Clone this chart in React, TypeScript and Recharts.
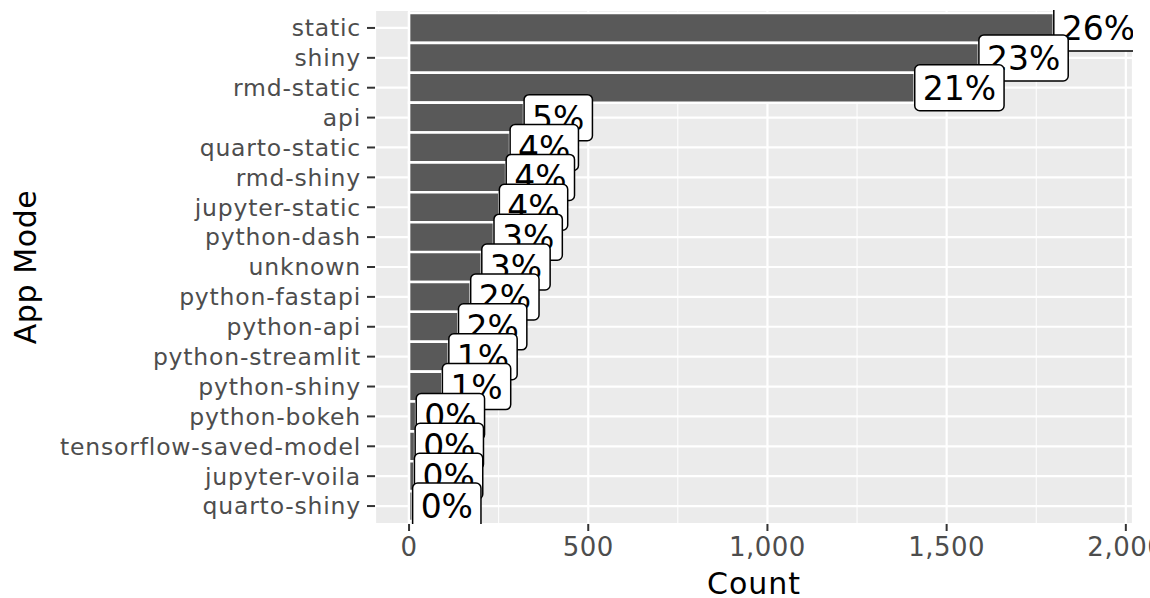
import React from 'react';
import { BarChart, Bar, XAxis, YAxis, CartesianGrid, LabelList, usePlotArea } from 'recharts';

const appModes = [
  'static', 'shiny', 'rmd-static', 'api', 'quarto-static', 'rmd-shiny', 'jupyter-static',
  'python-dash', 'unknown', 'python-fastapi', 'python-api', 'python-streamlit', 'python-shiny',
  'python-bokeh', 'tensorflow-saved-model', 'jupyter-voila', 'quarto-shiny',
];
const counts = [1799, 1590, 1411, 321, 282, 271, 252, 237, 203, 172, 138, 111, 93, 20, 17, 15, 10];
const pctLabels = ['26%', '23%', '21%', '5%', '4%', '4%', '4%', '3%', '3%', '2%', '2%', '1%', '1%', '0%', '0%', '0%', '0%'];
const xTicks = [0, 500, 1000, 1500, 2000];
const xMinorGrid = [250, 750, 1250, 1750];
const xDomain: [number, number] = [-95, 2020];

const data = appModes.map((mode, i) => ({ mode, count: counts[i], pct: pctLabels[i] }));

const FONT = 'DejaVu Sans';
const LABEL_FS = 33;
const LABEL_PAD = 8;
const charW: Record<string, number> = { '%': 0.95 };
const textWidth = (s: string) =>
  String(s).split('').reduce((a, c) => a + (charW[c] ?? 0.636), 0);

const fmt = (v: number) => v.toLocaleString('en-US');

const PanelClip = () => {
  const area = usePlotArea();
  if (!area) return null;
  return (
    <defs>
      <clipPath id="panel-clip">
        <rect x={area.x} y={area.y} width={area.width} height={area.height} />
      </clipPath>
    </defs>
  );
};

const AxisTitles = () => {
  const area = usePlotArea();
  if (!area) return null;
  const cx = area.x + area.width / 2;
  const cy = area.y + area.height / 2;
  return (
    <g>
      <text x={cx} y={594} textAnchor="middle" fontSize={30} fontFamily={FONT} letterSpacing={1} fill="#000">Count</text>
      <text transform={`translate(36 ${cy}) rotate(-90)`} textAnchor="middle" fontSize={30} fontFamily={FONT} letterSpacing={0.6} fill="#000">App Mode</text>
    </g>
  );
};

const PctLabel = (props: any) => {
  const vb = props.viewBox || {};
  const bx = Number(vb.x ?? props.x);
  const by = Number(vb.y ?? props.y);
  const bw = Number(vb.width ?? props.width);
  const bh = Number(vb.height ?? props.height);
  const value = String(props.value);
  const left = bx + bw;
  const cy = by + bh / 2;
  const w = textWidth(value) * LABEL_FS + 2 * LABEL_PAD;
  return (
    <g clipPath="url(#panel-clip)">
      <rect x={left} y={cy - 23} width={w} height={46} rx={5} ry={5} fill="#FFFFFF" stroke="#000000" strokeWidth={1.5} />
      <text x={left + LABEL_PAD} y={cy + 12} fontSize={LABEL_FS} fontFamily={FONT} fill="#000">{value}</text>
    </g>
  );
};

export default function App() {
  return (
    <div style={{ position: 'absolute', left: 0, top: 0, width: 1150, height: 598, background: '#fff' }}>
      <BarChart
        width={1150}
        height={598}
        data={data}
        layout="vertical"
        margin={{ top: 10, right: 17, bottom: 0, left: 0 }}
        barCategoryGap={0}
      >
        <PanelClip />
        <CartesianGrid fill="#EBEBEB" stroke="#FFFFFF" strokeWidth={1} horizontal={false} verticalValues={xMinorGrid} />
        <CartesianGrid stroke="#FFFFFF" strokeWidth={2.2} />
        <XAxis
          type="number"
          dataKey="count"
          domain={xDomain}
          allowDataOverflow
          ticks={xTicks}
          interval={0}
          tickFormatter={fmt}
          axisLine={false}
          tickLine={{ stroke: '#333333', strokeWidth: 2 }}
          tickSize={7}
          tickMargin={7}
          height={74}
          tick={{ fill: '#4D4D4D', fontSize: 26, fontFamily: FONT, letterSpacing: 0.5 }}
        />
        <YAxis
          type="category"
          dataKey="mode"
          width={375}
          padding={{ top: 3, bottom: 3 }}
          axisLine={false}
          tickLine={{ stroke: '#333333', strokeWidth: 2 }}
          tickSize={8}
          tickMargin={6}
          interval={0}
          tick={{ fill: '#4D4D4D', fontSize: 23.5, fontFamily: FONT, letterSpacing: 0.8 }}
        />
        <Bar dataKey="count" fill="#595959" stroke="#FFFFFF" strokeWidth={2.6} isAnimationActive={false}>
          <LabelList dataKey="pct" content={PctLabel} />
        </Bar>
        <AxisTitles />
      </BarChart>
    </div>
  );
}
